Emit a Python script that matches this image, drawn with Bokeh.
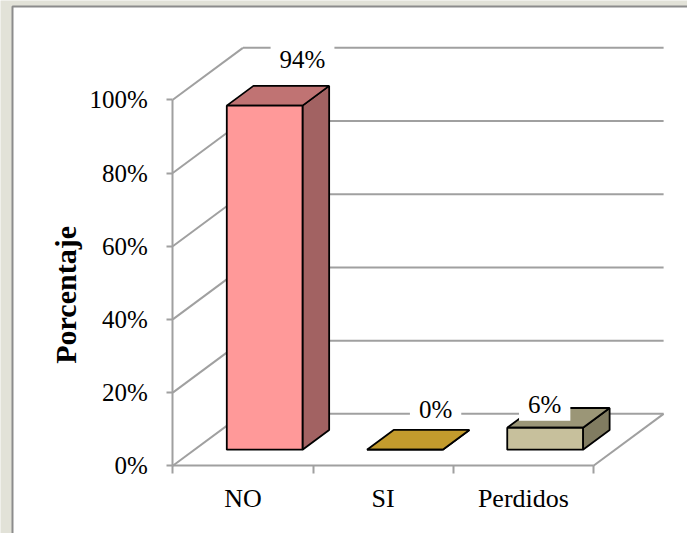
import math

from bokeh.plotting import figure
from bokeh.models import Range1d, LinearAxis, FixedTicker
from bokeh.core.properties import value
from bokeh.embed import file_html
from bokeh.resources import INLINE

# --- data ---------------------------------------------------------------
categories = ["NO", "SI", "Perdidos"]
percentages = [94, 0, 6]
value_labels = ["94%", "0%", "6%"]
y_ticks = [0, 20, 40, 60, 80, 100]
y_tick_labels = ["0%", "20%", "40%", "60%", "80%", "100%"]
y_title = "Porcentaje"

# --- styling ------------------------------------------------------------
front_colors = ["#ff9999", "#c39b2d", "#c7c09c"]
top_colors = ["#c07373", "#c39b2d", "#9b9677"]
side_colors = ["#a26262", "#a07f24", "#817c61"]
GRID = "#a0a0a0"
FONT = "Liberation Serif"

W, H = 687, 533
PX_PER_CAT = 140.23      # pixels per category slot along the floor
PX_PER_PCT = 3.66        # pixels per percentage point
X_ORIGIN_PX = 172.3      # screen x of the front-left corner of the floor
Y_ORIGIN_PX = 465.3      # screen y of the 0% level at the front

x_start = -X_ORIGIN_PX / PX_PER_CAT
x_end = x_start + W / PX_PER_CAT
y_start = -(H - Y_ORIGIN_PX) / PX_PER_PCT
y_end = y_start + H / PX_PER_PCT

# 3D depth of the box and bar placement inside it
DX, DY = 0.5, 14.2       # full depth offset (category units, percent)
F1, F2 = 0.31, 0.69      # bar front / back depth fractions
BW = 0.54                # bar width in category units

# per-label nudges (category units, percent above the bar top)
label_dx = [0.925, 0.874, 0.652]
label_dy = [17.0, 15.4, 10.8]

# centre of the vertical axis title (category units, percent)
TITLE_X, TITLE_Y = -0.765, 46.7

p = figure(width=W, height=H, output_backend="svg", toolbar_location=None,
           x_range=Range1d(x_start, x_end), y_range=Range1d(y_start, y_end),
           x_axis_type=None, y_axis_type=None, min_border=0)
p.outline_line_color = None
p.background_fill_color = "#e2e2d8"
p.border_fill_color = "#e2e2d8"

# chart panel with its grey border
p.quad(left=[x_start + 12 / PX_PER_CAT], right=[x_end + 1],
       top=[y_end - 6 / PX_PER_PCT], bottom=[y_start - 1],
       fill_color="white", line_color="#8c8c8c", line_width=2)

# back wall gridlines
p.multi_line(xs=[[DX, 3 + DX] for _ in y_ticks],
             ys=[[t + DY, t + DY] for t in y_ticks],
             line_color=GRID, line_width=2)
# side wall diagonals
p.multi_line(xs=[[0, DX] for _ in y_ticks],
             ys=[[t, t + DY] for t in y_ticks],
             line_color=GRID, line_width=2)
# right edge of the floor
p.line(x=[len(categories), len(categories) + DX], y=[0, DY],
       line_color=GRID, line_width=2)

# bars: side, top, front faces
side_xs, side_ys, top_xs, top_ys = [], [], [], []
lefts, rights, bottoms, tops = [], [], [], []
for i, v in enumerate(percentages):
    l1 = i + 0.5 - BW / 2 + F1 * DX
    r1 = l1 + BW
    b1 = F1 * DY
    t1 = b1 + v
    l2 = i + 0.5 - BW / 2 + F2 * DX
    r2 = l2 + BW
    b2 = F2 * DY
    t2 = b2 + v
    side_xs.append([r1, r1, r2, r2])
    side_ys.append([b1, t1, t2, b2])
    top_xs.append([l1, r1, r2, l2])
    top_ys.append([t1, t1, t2, t2])
    lefts.append(l1)
    rights.append(r1)
    bottoms.append(b1)
    tops.append(t1)

p.patches(xs=side_xs, ys=side_ys, fill_color=side_colors,
          line_color="black", line_width=1.8)
p.patches(xs=top_xs, ys=top_ys, fill_color=top_colors,
          line_color="black", line_width=1.8)
p.quad(left=lefts, right=rights, bottom=bottoms, top=tops,
       fill_color=front_colors, line_color="black", line_width=1.8)

# value labels on white boxes
p.text(x=[i + dx for i, dx in enumerate(label_dx)],
       y=[v + dy for v, dy in zip(percentages, label_dy)],
       text=value_labels, text_font=value(FONT), text_font_size="25px",
       text_color="black", text_align="center", text_baseline="middle",
       background_fill_color="white",
       padding=dict(left=9, right=9, top=3, bottom=3))

# vertical axis title
p.text(x=[TITLE_X], y=[TITLE_Y], text=[y_title], angle=math.pi / 2,
       text_font=value(FONT), text_font_size="30px", text_font_style="bold",
       text_color="black", text_align="center", text_baseline="middle")

# value axis on the front-left edge
yaxis = LinearAxis(fixed_location=0, bounds=(0, 100),
                   ticker=FixedTicker(ticks=y_ticks),
                   major_label_overrides=dict(zip(y_ticks, y_tick_labels)))
yaxis.axis_line_color = GRID
yaxis.axis_line_width = 2
yaxis.major_tick_line_color = GRID
yaxis.major_tick_line_width = 2
yaxis.major_tick_out = 6
yaxis.major_tick_in = 0
yaxis.minor_tick_line_color = None
yaxis.major_label_standoff = 19
yaxis.major_label_text_font = FONT
yaxis.major_label_text_font_size = "25px"
yaxis.major_label_text_color = "black"
p.add_layout(yaxis, "left")

# category axis along the front edge of the floor
cat_pos = [i + 0.5 for i in range(len(categories))]
xaxis = LinearAxis(fixed_location=0, bounds=(0, len(categories)),
                   ticker=FixedTicker(ticks=cat_pos,
                                      minor_ticks=list(range(len(categories) + 1))),
                   major_label_overrides=dict(zip(cat_pos, categories)))
xaxis.axis_line_color = GRID
xaxis.axis_line_width = 2
xaxis.major_tick_line_color = None
xaxis.minor_tick_line_color = GRID
xaxis.minor_tick_line_width = 2
xaxis.minor_tick_out = 8
xaxis.minor_tick_in = 0
xaxis.major_label_standoff = 10
xaxis.major_label_text_font = FONT
xaxis.major_label_text_font_size = "26px"
xaxis.major_label_text_color = "black"
p.add_layout(xaxis, "below")

open("out.html", "w").write(file_html(p, INLINE))
